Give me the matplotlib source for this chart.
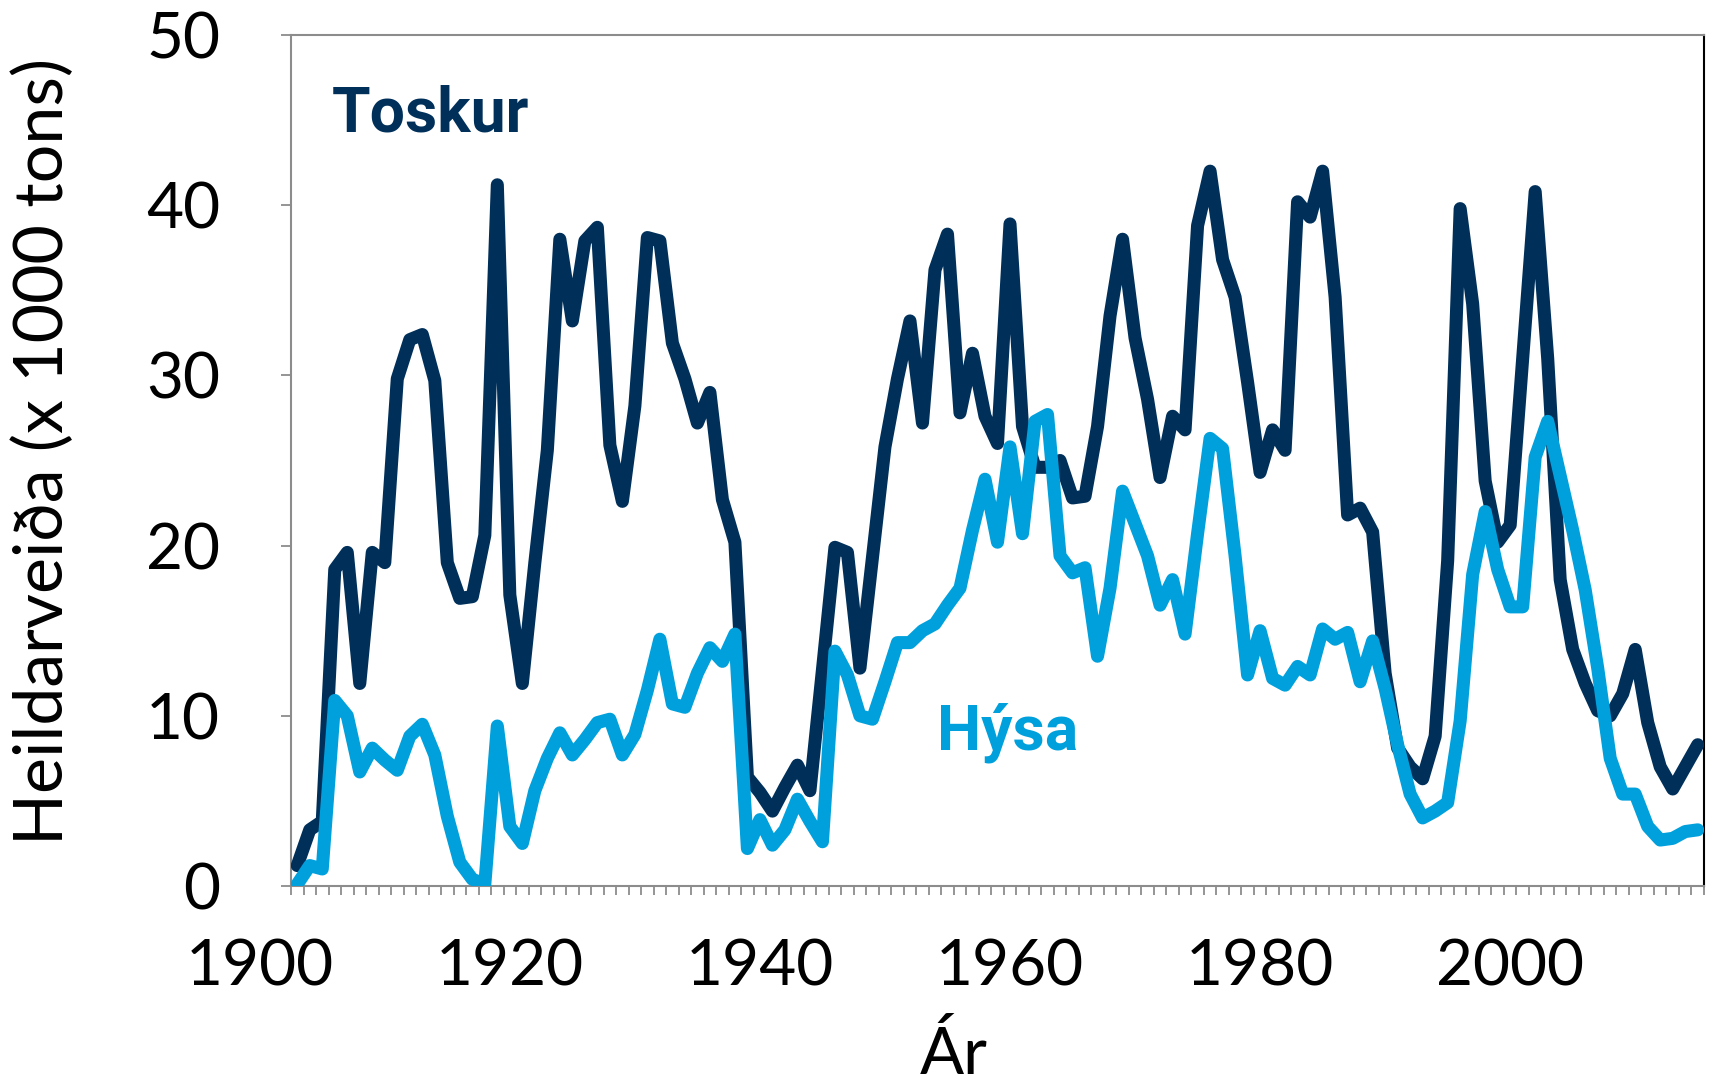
import numpy as np
import matplotlib
matplotlib.use("Agg")
import matplotlib.pyplot as plt
from matplotlib.transforms import blended_transform_factory

years = list(range(1903, 2016))

toskur = [
    1.2, 3.3, 3.8, 18.6, 19.6, 11.9, 19.6, 19.0, 29.8, 32.1,      # 1903-1912
    32.4, 29.7, 19.0, 16.9, 17.0, 20.6, 41.2, 17.1, 11.9, 19.0,   # 1913-1922
    25.6, 38.0, 33.2, 37.9, 38.7, 25.9, 22.6, 28.2, 38.1, 37.9,   # 1923-1932
    31.9, 29.8, 27.2, 29.0, 22.7, 20.2, 6.4, 5.5, 4.4, 5.8,       # 1933-1942
    7.1, 5.6, 12.7, 19.9, 19.6, 12.8, 19.3, 25.8, 29.8, 33.2,     # 1943-1952
    27.2, 36.2, 38.3, 27.8, 31.3, 27.6, 26.0, 38.9, 27.0, 24.6,   # 1953-1962
    24.6, 25.0, 22.8, 22.9, 27.0, 33.5, 38.0, 32.2, 28.6, 24.0,   # 1963-1972
    27.6, 26.8, 38.8, 42.0, 36.8, 34.6, 29.6, 24.3, 26.8, 25.6,   # 1973-1982
    40.2, 39.3, 42.0, 34.6, 21.8, 22.2, 20.8, 12.5, 8.1, 7.0,     # 1983-1992
    6.3, 8.8, 19.1, 39.8, 34.2, 23.8, 20.2, 21.2, 31.0, 40.8,     # 1993-2002
    31.0, 18.0, 13.9, 11.9, 10.3, 10.0, 11.3, 13.9, 9.6, 7.0,     # 2003-2012
    5.7, 7.0, 8.3,                                                # 2013-2015
]

hysa = [
    0.1, 1.2, 1.0, 10.9, 10.0, 6.7, 8.1, 7.4, 6.8, 8.8,           # 1903-1912
    9.5, 7.7, 4.1, 1.4, 0.4, 0.1, 9.4, 3.5, 2.5, 5.6,             # 1913-1922
    7.5, 9.0, 7.7, 8.6, 9.6, 9.8, 7.7, 8.9, 11.5, 14.5,           # 1923-1932
    10.7, 10.5, 12.5, 14.0, 13.2, 14.8, 2.2, 3.9, 2.4, 3.3,       # 1933-1942
    5.1, 3.8, 2.6, 13.8, 12.4, 10.0, 9.8, 12.0, 14.3, 14.3,       # 1943-1952
    15.0, 15.4, 16.5, 17.5, 20.9, 23.9, 20.2, 25.8, 20.7, 27.3,   # 1953-1962
    27.7, 19.4, 18.4, 18.7, 13.5, 17.5, 23.2, 21.3, 19.4, 16.5,   # 1963-1972
    18.0, 14.8, 20.7, 26.3, 25.7, 19.4, 12.4, 15.0, 12.2, 11.8,   # 1973-1982
    12.9, 12.4, 15.1, 14.5, 14.9, 12.0, 14.4, 11.6, 8.3, 5.4,     # 1983-1992
    4.0, 4.4, 4.9, 9.7, 18.3, 22.0, 18.6, 16.4, 16.4, 25.2,       # 1993-2002
    27.3, 24.1, 20.9, 17.4, 12.8, 7.5, 5.4, 5.4, 3.5, 2.7,        # 2003-2012
    2.8, 3.2, 3.3,                                                # 2013-2015
]

year_labels = [1900, 1920, 1940, 1960, 1980, 2000]
y_ticks = [0, 10, 20, 30, 40, 50]

dark = "#00305A"
light = "#00A0DC"
axis_gray = "#8C8C8C"

W, H = 1709, 1087
fig = plt.figure(figsize=(W / 100, H / 100), dpi=100)
L, R, T, B = 291, 1704, 35, 886
ax = fig.add_axes([L / W, 1 - B / H, (R - L) / W, (B - T) / H])

ax.plot(years, toskur, color=dark, lw=9.4, solid_joinstyle="round",
        solid_capstyle="round", zorder=3)
ax.plot(years, hysa, color=light, lw=9.4, solid_joinstyle="round",
        solid_capstyle="round", zorder=4)

ax.set_xlim(years[0] - 0.5, years[-1] + 0.5)
ax.set_ylim(0, 50)

tick_font = "Lato"
ax.set_yticks(y_ticks)
ax.set_yticklabels([str(v) for v in y_ticks], fontsize=46, family=tick_font)
ax.tick_params(axis="y", direction="out", length=7, width=1.3,
               color=axis_gray, pad=44)

ax.set_xticks([])
ax.set_xticks(np.arange(years[0] - 0.5, years[-1] + 1.0, 1.0), minor=True)
ax.tick_params(axis="x", which="minor", direction="out", length=6.5,
               width=1.3, color=axis_gray)

trans = blended_transform_factory(ax.transData, ax.transAxes)
for yl in year_labels:
    ax.text(yl, -0.1175, str(yl), transform=trans, ha="center",
            va="baseline", fontsize=46, family=tick_font, clip_on=False)

for side in ["left", "bottom", "top"]:
    ax.spines[side].set_color(axis_gray)
    ax.spines[side].set_linewidth(1.5)
ax.spines["right"].set_color("black")
ax.spines["right"].set_linewidth(1.5)

fig.text(954 / W, 1 - 1074 / H, "Ár", ha="center", va="baseline",
         fontsize=47, family=tick_font)
fig.text(44 / W, 1 - 452 / H, "Heildarveiða (x 1000 tons)", ha="center",
         va="center", rotation=90, fontsize=49, family=tick_font)

ax.text(0.029, 0.887, "Toskur", transform=ax.transAxes, color=dark,
        fontsize=45, fontweight="bold", family="Roboto", va="baseline")
ax.text(0.457, 0.160, "Hýsa", transform=ax.transAxes, color=light,
        fontsize=45, fontweight="bold", family="Roboto", va="baseline")

fig.savefig("out.png", dpi=100)
